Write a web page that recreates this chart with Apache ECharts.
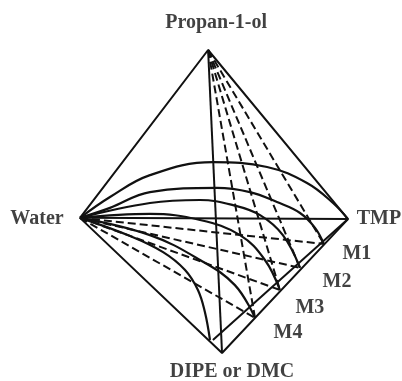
<!DOCTYPE html>
<html>
<head>
<meta charset="utf-8">
<style>
  html, body { margin: 0; padding: 0; background: #ffffff; }
  #chart { width: 402px; height: 381px; }
</style>
<script src="https://cdn.jsdelivr.net/npm/echarts/dist/echarts.min.js"></script>
</head>
<body>
<div id="chart"></div>
<script>
// Projected quaternary diagram: x runs Water -> TMP, y runs DIPE -> Propan-1-ol (both 0..1).
const vertexNames = ['Water', 'Propan-1-ol', 'TMP', 'DIPE or DMC'];
const vertexPoints = [[0, 0.446], [0.478, 1], [1, 0.442], [0.530, 0]];

const mixtureNames = ['M1', 'M2', 'M3', 'M4'];
const mixturePoints = [[0.910, 0.360], [0.821, 0.281], [0.746, 0.208], [0.653, 0.116]];

// line through the mixture points, running back from TMP
const mixtureLine = [[1, 0.442], [0.496, 0.043]];

// binodal curves, one per section plane, from the water corner
const binodalTMP = [[0, 0.446], [0.112, 0.515], [0.261, 0.587], [0.496, 0.630], [0.698, 0.614], [0.847, 0.561], [0.944, 0.495], [1, 0.442]];
const binodalM1 = [[0, 0.446], [0.112, 0.479], [0.261, 0.531], [0.511, 0.545], [0.634, 0.531], [0.735, 0.498], [0.821, 0.462], [0.877, 0.413], [0.910, 0.360]];
const binodalM2 = [[0, 0.446], [0.261, 0.495], [0.448, 0.505], [0.571, 0.488], [0.672, 0.455], [0.757, 0.389], [0.821, 0.281]];
const binodalM3 = [[0, 0.446], [0.261, 0.459], [0.448, 0.439], [0.597, 0.389], [0.690, 0.307], [0.746, 0.208]];
const binodalM4 = [[0, 0.446], [0.261, 0.389], [0.448, 0.307], [0.578, 0.224], [0.653, 0.116]];
const binodalDIPE = [[0, 0.446], [0.187, 0.386], [0.310, 0.333], [0.392, 0.274], [0.440, 0.208], [0.466, 0.135], [0.485, 0.043]];

const INK = '#111111';
const [W, P, T, D] = vertexPoints;

function solid(data, smooth, width) {
  return {
    type: 'line', data: data, showSymbol: false, smooth: smooth || false,
    lineStyle: { color: INK, width: width || 2 }, silent: true, animation: false
  };
}
function dashed(data) {
  return {
    type: 'line', data: data, showSymbol: false,
    lineStyle: { color: INK, width: 2, type: [8, 4] }, silent: true, animation: false
  };
}

const series = [
  // frame of the tetrahedron
  solid([W, P, T, D, W], false, 2),
  solid([W, T], false, 2),
  solid([P, D], false, 2),
  solid(mixtureLine, false, 2)
];
[binodalTMP, binodalM1, binodalM2, binodalM3, binodalM4, binodalDIPE].forEach(c => series.push(solid(c, 0.4, 2.2)));
mixturePoints.forEach(m => { series.push(dashed([P, m])); series.push(dashed([W, m])); });

const labelFont = { fontFamily: 'Liberation Serif', fontWeight: 'bold', fontSize: 20, color: INK };
const vertexLabelOffsets = [[-43, 1], [8, -27], [31, 0], [10, 19]];
series.push({
  type: 'scatter', symbolSize: 0, silent: true, animation: false,
  data: vertexPoints.map((p, i) => ({
    value: p, name: vertexNames[i],
    label: { show: true, formatter: '{b}', position: 'inside', offset: vertexLabelOffsets[i], ...labelFont }
  }))
});
const mixtureLabelOffsets = [[33, 10], [37, 14], [30, 18], [33, 15]];
series.push({
  type: 'scatter', symbolSize: 0, silent: true, animation: false,
  data: mixturePoints.map((p, i) => ({
    value: p, name: mixtureNames[i],
    label: { show: true, formatter: '{b}', position: 'inside', offset: mixtureLabelOffsets[i], ...labelFont }
  }))
});

const chart = echarts.init(document.getElementById('chart'));
chart.setOption({
  backgroundColor: '#ffffff',
  animation: false,
  grid: { left: 80, right: 54, top: 50, bottom: 28, containLabel: false },
  xAxis: { type: 'value', min: 0, max: 1, show: false },
  yAxis: { type: 'value', min: 0, max: 1, show: false },
  series: series
});
</script>
</body>
</html>
